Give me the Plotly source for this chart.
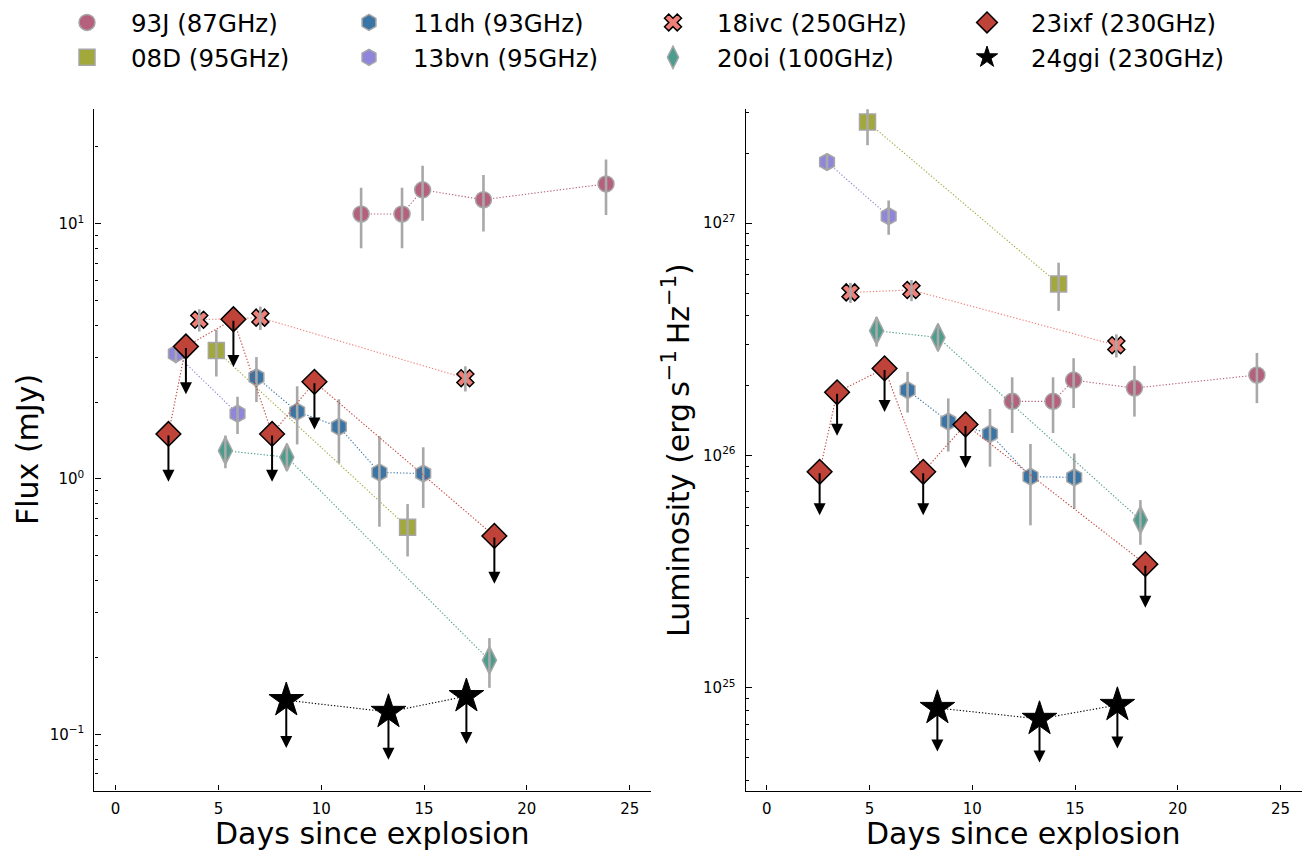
import numpy as np
import plotly.graph_objects as go

# ---------------- data ----------------
sn_keys = ["93J", "08D", "11dh", "13bvn", "18ivc", "20oi", "23ixf", "24ggi"]
sn_labels = ["93J (87GHz)", "08D (95GHz)", "11dh (93GHz)", "13bvn (95GHz)",
             "18ivc (250GHz)", "20oi (100GHz)", "23ixf (230GHz)", "24ggi (230GHz)"]

days_93J = [11.94, 13.93, 14.93, 17.89, 23.85]
flux_93J = [10.9, 10.9, 13.55, 12.4, 14.3]
ferr_93J = [2.9, 2.9, 3.3, 3.1, 3.5]
lum_93J = [1.71e26, 1.71e26, 2.11e26, 1.95e26, 2.22e26]
lerr_93J = [0.46e26, 0.46e26, 0.51e26, 0.48e26, 0.54e26]

days_08D = [4.90, 14.2]
flux_08D = [3.18, 0.647]
ferr_08D = [0.66, 0.15]
lum_08D = [2.72e27, 5.47e26]
lerr_08D = [5.6e26, 1.28e26]

days_11dh = [6.85, 8.83, 10.86, 12.83, 14.96]
flux_11dh = [2.50, 1.835, 1.60, 1.06, 1.05]
ferr_11dh = [0.50, 0.47, 0.45, 0.41, 0.28]
lum_11dh = [1.91e26, 1.40e26, 1.24e26, 8.11e25, 8.05e25]
lerr_11dh = [0.38e26, 0.36e26, 0.345e26, 0.31e26, 0.215e26]

days_13bvn = [2.93, 5.93]
flux_13bvn = [3.09, 1.80]
ferr_13bvn = [0.25, 0.30]
lum_13bvn = [1.83e27, 1.07e27]
lerr_13bvn = [1.5e26, 1.8e26]

days_18ivc = [4.07, 7.04, 17.01]
flux_18ivc = [4.20, 4.28, 2.48]
ferr_18ivc = [0.42, 0.45, 0.28]
lum_18ivc = [5.03e26, 5.15e26, 2.98e26]
lerr_18ivc = [0.50e26, 0.54e26, 0.34e26]

days_20oi = [5.34, 8.33, 18.18]
flux_20oi = [1.29, 1.216, 0.195]
ferr_20oi = [0.19, 0.14, 0.043]
lum_20oi = [3.44e26, 3.22e26, 5.28e25]
lerr_20oi = [0.50e26, 0.37e26, 0.115e26]

days_23ixf = [2.57, 3.42, 5.73, 7.61, 9.67, 18.42]
flux_23ixf = [1.50, 3.30, 4.22, 1.50, 2.40, 0.598]
lum_23ixf = [8.51e25, 1.87e26, 2.37e26, 8.51e25, 1.36e26, 3.41e25]

days_24ggi = [8.30, 13.27, 17.06]
flux_24ggi = [0.136, 0.1223, 0.141]
lum_24ggi = [8.2e24, 7.36e24, 8.45e24]

x_ticks = [0, 5, 10, 15, 20, 25]
flux_ticks = [0.1, 1, 10]
flux_ticktext = ["10<sup>\u22121</sup>", "10<sup>0</sup>", "10<sup>1</sup>"]
lum_ticks = [1e25, 1e26, 1e27]
lum_ticktext = ["10<sup>25</sup>", "10<sup>26</sup>", "10<sup>27</sup>"]

# ---------------- styles ----------------
EDGE = "#a6a6a6"
styles = {
    "93J":   dict(symbol="circle", size=16, color="#b5617e", edge=EDGE, ew=1.5, line="#b5617e"),
    "08D":   dict(symbol="square", size=16, color="#a3a83a", edge=EDGE, ew=1.5, line="#a3a83a"),
    "11dh":  dict(symbol="hexagon", size=17, color="#3a75a5", edge=EDGE, ew=1.5, line="#3a75a5"),
    "13bvn": dict(symbol="hexagon", size=17, color="#8f86db", edge=EDGE, ew=1.5, line="#8f86db"),
    "18ivc": dict(symbol="x", size=15, color="#f07f77", edge="black", ew=1.5, line="#f07f77"),
    "20oi":  dict(symbol="diamond-tall", size=20, color="#4c9d8d", edge=EDGE, ew=1.5, line="#4c9d8d"),
    "23ixf": dict(symbol="diamond", size=19, color="#c0433a", edge="black", ew=1.5, line="#c0433a"),
    "24ggi": dict(symbol="star", size=26, color="black", edge="black", ew=1, line="black"),
}

series = {
    "93J": (days_93J, flux_93J, ferr_93J, lum_93J, lerr_93J, False),
    "08D": (days_08D, flux_08D, ferr_08D, lum_08D, lerr_08D, False),
    "11dh": (days_11dh, flux_11dh, ferr_11dh, lum_11dh, lerr_11dh, False),
    "13bvn": (days_13bvn, flux_13bvn, ferr_13bvn, lum_13bvn, lerr_13bvn, False),
    "18ivc": (days_18ivc, flux_18ivc, ferr_18ivc, lum_18ivc, lerr_18ivc, False),
    "20oi": (days_20oi, flux_20oi, ferr_20oi, lum_20oi, lerr_20oi, False),
    "23ixf": (days_23ixf, flux_23ixf, None, lum_23ixf, None, True),
    "24ggi": (days_24ggi, flux_24ggi, None, lum_24ggi, None, True),
}

legend_of = {"93J": "legend", "08D": "legend", "11dh": "legend2", "13bvn": "legend2",
             "18ivc": "legend3", "20oi": "legend3", "23ixf": "legend4", "24ggi": "legend4"}

FONT = "DejaVu Sans"
UL_TIP = 0.65  # arrow tip as fraction of limit value

fig = go.Figure()
annotations = []

for key, label in zip(sn_keys, sn_labels):
    st = styles[key]
    d, f, fe, l, le, ul = series[key]
    for panel, (yv, ye) in enumerate([(f, fe), (l, le)]):
        xa = "x" if panel == 0 else "x2"
        ya = "y" if panel == 0 else "y2"
        # dotted connecting line
        fig.add_trace(go.Scatter(x=d, y=yv, mode="lines", xaxis=xa, yaxis=ya,
                                 line=dict(color=st["line"], width=1.1, dash="1.3px,1.9px"),
                                 showlegend=False, hoverinfo="skip"))
        # markers
        fig.add_trace(go.Scatter(x=d, y=yv, mode="markers", xaxis=xa, yaxis=ya,
                                 name=label, legend=legend_of[key],
                                 showlegend=(panel == 0),
                                 marker=dict(symbol=st["symbol"], size=st["size"], color=st["color"],
                                             line=dict(color=st["edge"], width=st["ew"]))))
        # error bars on top
        if ye is not None:
            fig.add_trace(go.Scatter(x=d, y=yv, mode="markers", xaxis=xa, yaxis=ya,
                                     marker=dict(size=2, opacity=0),
                                     error_y=dict(type="data", array=ye, symmetric=True,
                                                  color="#a8a8a8", thickness=2.6, width=0),
                                     showlegend=False, hoverinfo="skip"))
        if ul:
            for xi, vi in zip(d, yv):
                annotations.append(dict(
                    x=xi, y=np.log10(vi * UL_TIP), ax=xi, ay=np.log10(vi),
                    xref=xa, yref=ya, axref=xa, ayref=ya, text="",
                    showarrow=True, arrowhead=2, arrowsize=1.2, arrowwidth=2,
                    arrowcolor="black", standoff=0, startstandoff=0))


def minor_vals(lo, hi):
    vals = []
    for e in range(int(np.floor(lo)) - 1, int(np.ceil(hi)) + 1):
        for k in range(2, 10):
            v = k * 10.0 ** e
            if lo <= np.log10(v) <= hi:
                vals.append(v)
    return vals


XR = [-1.03, 26.03]
YR1 = [-1.2205, 1.4477]
YR2 = [24.5587, 27.4895]
ydom = [0.0699, 0.8715]

axis_common = dict(showline=True, linecolor="black", linewidth=1.3, mirror=False,
                   showgrid=False, zeroline=False, ticks="inside", tickcolor="black",
                   tickwidth=1, tickfont=dict(family=FONT, size=15, color="black"))

fig.update_layout(
    width=1313, height=850,
    margin=dict(l=0, r=0, t=0, b=0),
    paper_bgcolor="white", plot_bgcolor="white",
    font=dict(family=FONT, color="black"),
    xaxis=dict(domain=[0.0719, 0.4957], range=XR, anchor="y", tickvals=x_ticks,
               ticklen=5, ticklabelstandoff=4, **axis_common),
    yaxis=dict(domain=ydom, type="log", range=YR1, anchor="x",
               tickvals=flux_ticks, ticktext=flux_ticktext, ticklen=6, ticklabelstandoff=6,
               minor=dict(tickvals=minor_vals(*YR1), ticks="inside", ticklen=3.5,
                          tickcolor="black", tickwidth=1),
               **axis_common),
    xaxis2=dict(domain=[0.5679, 0.9914], range=XR, anchor="y2", tickvals=x_ticks,
                ticklen=5, ticklabelstandoff=4, **axis_common),
    yaxis2=dict(domain=ydom, type="log", range=YR2, anchor="x2",
                tickvals=lum_ticks, ticktext=lum_ticktext, ticklen=6, ticklabelstandoff=6,
                minor=dict(tickvals=minor_vals(*YR2), ticks="inside", ticklen=3.5,
                           tickcolor="black", tickwidth=1),
                **axis_common),
)

leg_common = dict(orientation="v", yanchor="top", xanchor="left", bgcolor="rgba(0,0,0,0)",
                  font=dict(family=FONT, size=24.5, color="black"), tracegroupgap=0,
                  itemsizing="trace", itemwidth=78, y=1.0)
fig.update_layout(
    legend=dict(x=43 / 1313, **leg_common),
    legend2=dict(x=325 / 1313, **leg_common),
    legend3=dict(x=629 / 1313, **leg_common),
    legend4=dict(x=943 / 1313, **leg_common),
)

title_font = dict(family=FONT, size=30, color="black")
annotations += [
    dict(text="Days since explosion", x=(94.4 + 650.8) / 2 / 1313, y=(850 - 833) / 850,
         xref="paper", yref="paper", showarrow=False, font=title_font,
         xanchor="center", yanchor="middle"),
    dict(text="Days since explosion", x=(745.7 + 1301.7) / 2 / 1313, y=(850 - 833) / 850,
         xref="paper", yref="paper", showarrow=False, font=title_font,
         xanchor="center", yanchor="middle"),
    dict(text="Flux (mJy)", x=27 / 1313, y=(850 - 450) / 850, textangle=-90,
         xref="paper", yref="paper", showarrow=False, font=title_font,
         xanchor="center", yanchor="middle"),
    dict(text="Luminosity (erg\u2009s<sup>\u22121</sup>\u2009Hz<sup>\u22121</sup>)",
         x=676 / 1313, y=(850 - 450) / 850, textangle=-90,
         xref="paper", yref="paper", showarrow=False, font=title_font,
         xanchor="center", yanchor="middle"),
]
fig.update_layout(annotations=annotations)

fig.write_html("out.html", config={"displayModeBar": False},
               post_script="document.body.style.margin='0px';")
